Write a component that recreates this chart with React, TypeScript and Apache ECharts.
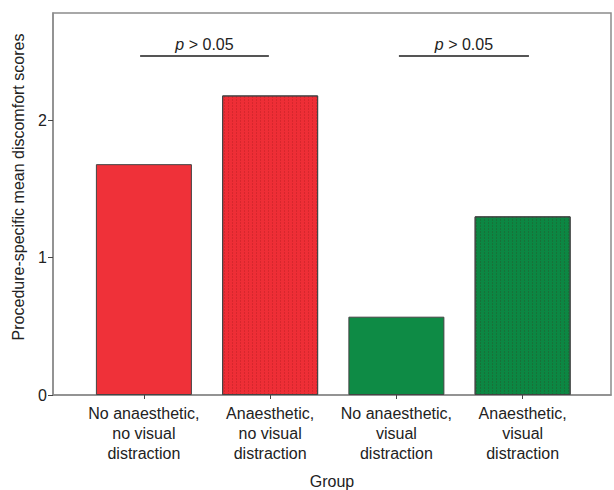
import React, { useEffect, useRef } from "react";
import * as echarts from "echarts";

const categories = [
  "No anaesthetic,\nno visual\ndistraction",
  "Anaesthetic,\nno visual\ndistraction",
  "No anaesthetic,\nvisual\ndistraction",
  "Anaesthetic,\nvisual\ndistraction",
];
const scores = [1.68, 2.18, 0.57, 1.3];
const barColors = ["#ef3139", "#ee2e36", "#0e8b45", "#0c8743"];
const patterned = [false, true, false, true];
const yTicks = [0, 1, 2];
const pLabel = "p > 0.05";
const brackets = [
  [-0.03, 0.99],
  [2.02, 3.05],
];
const bracketY = 2.47;

const FONT = "'Liberation Sans', Arial, Helvetica, sans-serif";

export default function App() {
  const ref = useRef<HTMLDivElement>(null);
  useEffect(() => {
    if (!ref.current) return;
    const chart = echarts.init(ref.current, null, { renderer: "svg" });
    const data = scores.map((v, i) => ({
      value: [i, v],
      itemStyle: {
        color: barColors[i],
        borderColor: "#444",
        borderWidth: 1,
        decal: patterned[i]
          ? {
              symbol: "rect",
              symbolSize: 1,
              color: "rgba(90,0,0,0.16)",
              dashArrayX: [1, 3],
              dashArrayY: [2, 1],
              rotation: 0,
            }
          : undefined,
      },
    }));
    chart.setOption({
      animation: false,
      textStyle: { fontFamily: FONT },
      grid: {
        left: 53,
        right: 3,
        top: 13,
        bottom: 95,
        outerBoundsMode: "none",
        containLabel: false,
        show: true,
        borderColor: "#8c8c8c",
        borderWidth: 1.5,
        backgroundColor: "transparent",
      },
      xAxis: {
        type: "value",
        min: -0.72,
        max: 3.7,
        splitLine: { show: false },
        axisLine: { show: true, onZero: false, lineStyle: { color: "#8c8c8c", width: 1.5 } },
        axisTick: {
          show: true,
          customValues: [0, 1, 2, 3],
          length: 4,
          lineStyle: { color: "#444", width: 1 },
        },
        axisLabel: {
          customValues: [0, 1, 2, 3],
          formatter: (v: number) => categories[Math.round(v)] ?? "",
          color: "#222",
          fontSize: 16,
          lineHeight: 20,
          margin: 8,
          fontFamily: FONT,
        },
        name: "Group",
        nameLocation: "middle",
        nameGap: 78,
        nameTextStyle: { color: "#222", fontSize: 16, fontFamily: FONT },
      },
      yAxis: {
        type: "value",
        min: 0,
        max: 2.78,
        interval: 1,
        splitLine: { show: false },
        axisLine: { show: true, onZero: false, lineStyle: { color: "#8c8c8c", width: 1.5 } },
        axisTick: {
          show: true,
          customValues: yTicks,
          length: 5,
          lineStyle: { color: "#444", width: 1 },
        },
        axisLabel: {
          customValues: yTicks,
          formatter: (v: number) => String(v),
          color: "#222",
          fontSize: 16,
          margin: 6,
          fontFamily: FONT,
        },
      },
      graphic: [
        {
          type: "text",
          x: 18,
          y: 187,
          rotation: Math.PI / 2,
          style: {
            text: "Procedure-specific mean discomfort scores",
            fill: "#222",
            font: `16px ${FONT}`,
            align: "center",
            verticalAlign: "middle",
          },
        },
      ],
      series: [
        {
          type: "bar",
          data,
          barWidth: 96,
          markLine: {
            silent: true,
            symbol: "none",
            lineStyle: { color: "#555", width: 2, type: "solid" },
            label: {
              show: true,
              position: "middle",
              formatter: "{i|p} > 0.05",
              color: "#222",
              fontSize: 16,
              distance: 3,
              fontFamily: FONT,
              rich: {
                i: { fontStyle: "italic", fontSize: 16, color: "#222", fontFamily: FONT },
              },
            },
            data: brackets.map(([a, b]) => [
              { coord: [a, bracketY], name: pLabel },
              { coord: [b, bracketY] },
            ]),
          },
        },
      ],
    });
    return () => chart.dispose();
  }, []);
  return (
    <div
      ref={ref}
      style={{ position: "absolute", left: 0, top: 0, width: 614, height: 490 }}
    />
  );
}
